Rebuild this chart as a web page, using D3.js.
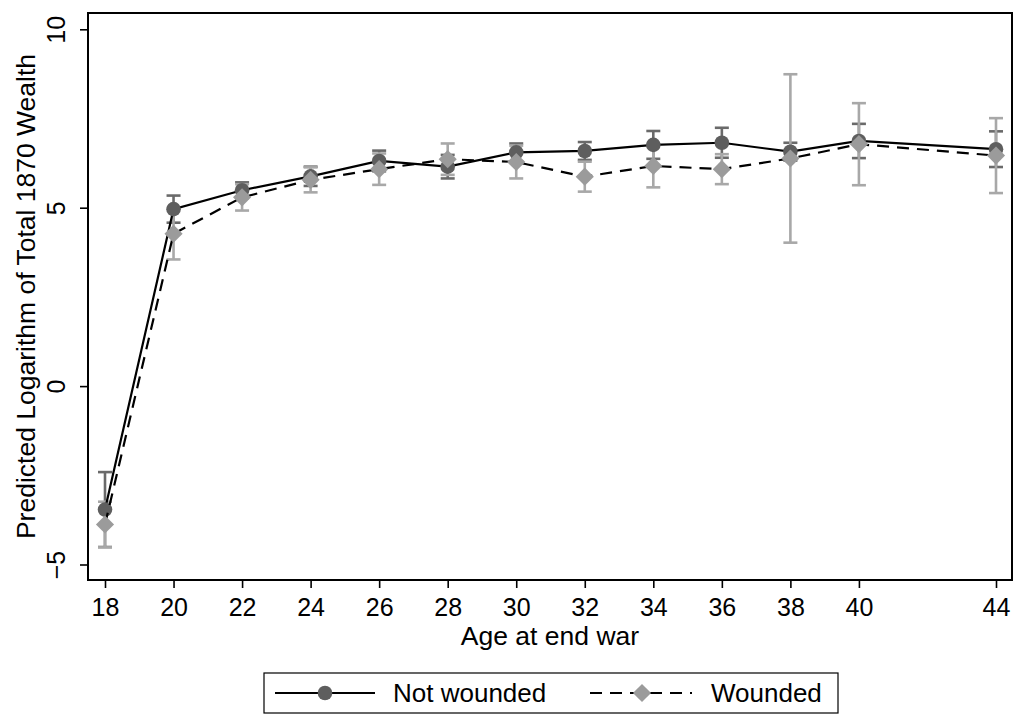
<!DOCTYPE html>
<html>
<head>
<meta charset="utf-8">
<script src="https://cdn.jsdelivr.net/npm/d3@7"></script>
<style>
  body { margin: 0; background: #fff; }
  text { font-family: "Liberation Sans", Arial, sans-serif; fill: #000; }
</style>
</head>
<body>
<script>
// ages on the x axis
var ages = [18, 20, 22, 24, 26, 28, 30, 32, 34, 36, 38, 40, 44];
var xTicks = [18, 20, 22, 24, 26, 28, 30, 32, 34, 36, 38, 40, 44];
var yTicks = [-5, 0, 5, 10];

// predicted log wealth and half-width of 95% CI
var notWounded   = [-3.46, 4.96, 5.49, 5.88, 6.31, 6.15, 6.55, 6.59, 6.76, 6.82, 6.57, 6.87, 6.64];
var notWoundedCI = [1.05, 0.38, 0.22, 0.27, 0.29, 0.33, 0.25, 0.25, 0.39, 0.42, 0.25, 0.48, 0.50];
var wounded      = [-3.88, 4.27, 5.29, 5.78, 6.08, 6.36, 6.28, 5.87, 6.17, 6.08, 6.38, 6.78, 6.46];
var woundedCI    = [0.64, 0.72, 0.37, 0.35, 0.44, 0.44, 0.46, 0.42, 0.60, 0.42, 2.36, 1.15, 1.05];

var W = 1015, H = 717;
var L = 88, R = 1012, T = 13, B = 580;

var svg = d3.select("body").append("svg")
    .attr("width", W)
    .attr("height", H);

var x = d3.scaleLinear().domain([18, 44]).range([105, 996]);
var y = d3.scaleLinear().domain([-5, 10]).range([564.5, 29.3]);

// plot region box
svg.append("rect")
    .attr("x", L).attr("y", T)
    .attr("width", R - L).attr("height", B - T)
    .style("fill", "none").style("stroke", "#000").style("stroke-width", 2);

// axes
var xAxis = svg.append("g").attr("transform", "translate(0," + B + ")")
    .call(d3.axisBottom(x).tickValues(xTicks).tickSize(8).tickPadding(4).tickFormat(d3.format("d")));
var yAxis = svg.append("g").attr("transform", "translate(" + L + ",0)")
    .call(d3.axisLeft(y).tickValues(yTicks).tickSize(8).tickFormat(function(d){ return d < 0 ? "\u2212" + (-d) : d; }));

[xAxis, yAxis].forEach(function(a){
    a.select(".domain").remove();
    a.selectAll(".tick line").style("stroke", "#000").style("stroke-width", 1.6);
    a.selectAll(".tick text").style("font-size", "25px").style("font-family", "Liberation Sans, Arial, sans-serif").style("fill", "#000");
});
xAxis.selectAll(".tick text").attr("dy", null).attr("y", 36);
yAxis.selectAll(".tick text")
    .attr("x", null).attr("dy", null)
    .attr("text-anchor", "middle")
    .attr("transform", "translate(-23,0) rotate(-90)");

// axis titles
svg.append("text")
    .attr("x", (L + R) / 2).attr("y", 645)
    .attr("text-anchor", "middle")
    .style("font-size", "26.5px")
    .text("Age at end war");
svg.append("text")
    .attr("transform", "translate(35," + (T + B) / 2 + ") rotate(-90)")
    .attr("text-anchor", "middle")
    .style("font-size", "26.5px")
    .text("Predicted Logarithm of Total 1870 Wealth");

var series = [
    { name: "Not wounded", vals: notWounded, ci: notWoundedCI, bar: "#6a6a6a", mark: "#5e5e5e", dash: null, sym: "circle" },
    { name: "Wounded", vals: wounded, ci: woundedCI, bar: "#a8a8a8", mark: "#9b9b9b", dash: "12,8", sym: "diamond" }
];

function marker(g, s, cx, cy) {
    if (s.sym === "circle") {
        g.append("circle").attr("cx", cx).attr("cy", cy).attr("r", 7.3).style("fill", s.mark);
    } else {
        g.append("path")
            .attr("d", d3.symbol().type(d3.symbolSquare).size(165)())
            .attr("transform", "translate(" + cx + "," + cy + ") rotate(45)")
            .style("fill", s.mark);
    }
}

// confidence interval caps
series.forEach(function(s){
    var g = svg.append("g");
    ages.forEach(function(a, i){
        var lo = y(s.vals[i] - s.ci[i]), hi = y(s.vals[i] + s.ci[i]), cx = x(a);
        g.append("line").attr("x1", cx).attr("x2", cx).attr("y1", lo).attr("y2", hi);
        g.append("line").attr("x1", cx - 7).attr("x2", cx + 7).attr("y1", lo).attr("y2", lo);
        g.append("line").attr("x1", cx - 7).attr("x2", cx + 7).attr("y1", hi).attr("y2", hi);
    });
    g.selectAll("line").style("stroke", s.bar).style("stroke-width", 2.6);
});

// connected lines and markers
var line = d3.line().x(function(d){ return x(d[0]); }).y(function(d){ return y(d[1]); });
series.forEach(function(s){
    var g = svg.append("g");
    g.append("path")
        .datum(ages.map(function(a, i){ return [a, s.vals[i]]; }))
        .attr("d", line)
        .style("fill", "none").style("stroke", "#000").style("stroke-width", 2.2)
        .style("stroke-dasharray", s.dash);
    ages.forEach(function(a, i){ marker(g, s, x(a), y(s.vals[i])); });
});

// legend
var lg = svg.append("g");
lg.append("rect").attr("x", 264).attr("y", 673).attr("width", 574).attr("height", 40)
    .style("fill", "#fff").style("stroke", "#000").style("stroke-width", 1.2);
var keyX = [[275, 375, 325, 393], [590, 692, 642, 711]];
series.forEach(function(s, i){
    var k = keyX[i];
    lg.append("line").attr("x1", k[0]).attr("x2", k[1]).attr("y1", 693).attr("y2", 693)
        .style("stroke", "#000").style("stroke-width", 2.2).style("stroke-dasharray", s.dash);
    marker(lg, s, k[2], 693);
    lg.append("text").attr("x", k[3]).attr("y", 702).style("font-size", "26px").text(s.name);
});
</script>
</body>
</html>
